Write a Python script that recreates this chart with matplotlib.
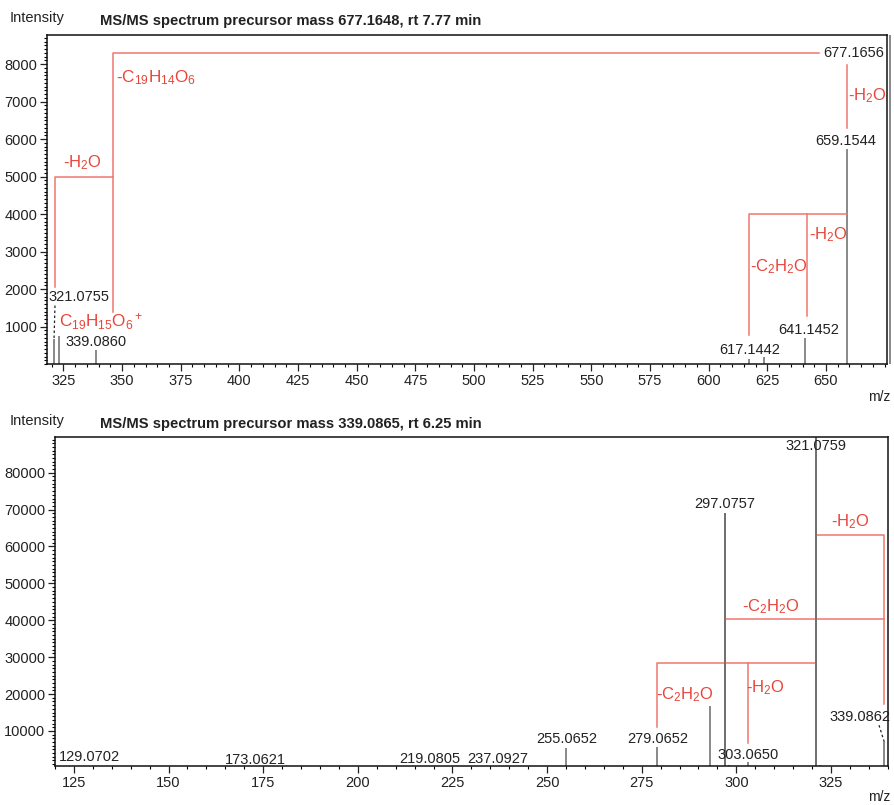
import numpy as np
import matplotlib
matplotlib.use("Agg")
import matplotlib.pyplot as plt
from matplotlib.ticker import MultipleLocator

plt.rcParams['font.family'] = ['Liberation Sans', 'DejaVu Sans']
plt.rcParams['mathtext.fontset'] = 'custom'
plt.rcParams['mathtext.rm'] = 'Liberation Sans'
plt.rcParams['mathtext.it'] = 'Liberation Sans'

PEAK = '#6a6a6a'
TXT = '#222222'
RED_T = '#e8453a'
RED_L = '#f0766e'

# spectrum 1 : precursor 677.1648
mz1 = [321.0755, 323.0, 339.0860, 617.1442, 623.4, 641.1452, 659.1544, 677.1656]
int1 = [680, 740, 385, 130, 180, 700, 5730, 8780]
lab1 = ['321.0755', '339.0860', '617.1442', '641.1452', '659.1544', '677.1656']
lab1_xy = [(331.6, 1800), (338.9, 590), (617.4, 385), (642.8, 920), (658.3, 5940), (661.7, 8290)]

# spectrum 2 : precursor 339.0865
mz2 = [129.0702, 173.0621, 219.0805, 237.0927, 247.2, 251.2, 255.0652, 279.0652,
       293.0, 297.0757, 298.08, 303.0650, 321.0759, 322.08, 339.0862]
int2 = [300, 250, 350, 400, 450, 500, 5400, 5590,
        16790, 69000, 700, 1500, 89600, 800, 7030]
lab2 = ['129.0702', '173.0621', '219.0805', '237.0927', '255.0652', '279.0652',
        '297.0757', '303.0650', '321.0759', '339.0862']
lab2_xy = [(129.0, 2960), (173.0, 2250), (219.0, 2520), (237.1, 2520), (255.1, 7760),
           (279.3, 7760), (297.0, 71500), (303.0, 3420), (321.1, 87250), (332.7, 13650)]

def sub(s, pre='-'):
    # plain hyphen in front, the formula itself in mathtext for the subscripts
    return pre + r'$\mathregular{' + s + '}$'

fig = plt.figure(figsize=(8.94, 8.05), dpi=100)
ax1 = fig.add_axes([47/894, 1-364/805, 840/894, 329/805])
ax2 = fig.add_axes([55/894, 1-766/805, 832.7/894, 328.7/805])

def style(ax, ymin):
    ax.xaxis.set_minor_locator(MultipleLocator(5))
    ax.yaxis.set_minor_locator(MultipleLocator(ymin))
    ax.tick_params(axis='both', which='major', direction='out', length=5, width=0.9,
                   labelsize=10.5, colors='#222222', pad=2)
    ax.tick_params(axis='both', which='minor', direction='out', length=2.5, width=0.8)
    ax.tick_params(top=False, right=False)
    for s in ax.spines.values():
        s.set_color('#111111')
        s.set_linewidth(1.1)

# --- top spectrum ---
ax1.set_xlim(318, 676.0)
ax1.set_ylim(0, 8780)
style(ax1, 100)
ax1.set_xticks(np.arange(325, 651, 25))
ax1.set_yticks(np.arange(1000, 8001, 1000))
ax1.vlines(mz1, 0, int1, color=PEAK, lw=1.1, clip_on=False)
for t, (x, y) in zip(lab1, lab1_xy):
    ax1.text(x, y, t, ha='center', va='center', fontsize=10.5, color=TXT)
ax1.plot([321.4, 321.0], [1560, 680], color=TXT, lw=0.9, ls=(0, (2, 2)))

ax1.plot([346.0, 346.0, 647.1], [1400, 8300, 8300], color=RED_L, lw=1.1)
ax1.plot([321.5, 321.5, 346.0], [2060, 4990, 4990], color=RED_L, lw=1.1)
ax1.plot([659.15, 659.15], [6310, 7980], color=RED_L, lw=1.1)
ax1.plot([617.2, 617.2, 659.15], [777, 3995, 3995], color=RED_L, lw=1.1)
ax1.plot([642.1, 642.1], [1290, 3995], color=RED_L, lw=1.1)

ax1.text(347.4, 7640, sub('C_{19}H_{14}O_6'), color=RED_T, fontsize=12.3, va='center')
ax1.text(325.0, 5370, sub('H_2O'), color=RED_T, fontsize=12, va='center')
ax1.text(323.1, 1140, sub('C_{19}H_{15}O_6{}^+', pre=''), color=RED_T, fontsize=12.3, va='center')
ax1.text(659.4, 7150, sub('H_2O'), color=RED_T, fontsize=12, va='center')
ax1.text(642.6, 3450, sub('H_2O'), color=RED_T, fontsize=12, va='center')
ax1.text(617.4, 2590, sub('C_2H_2O'), color=RED_T, fontsize=12, va='center')

fig.text(10/894, 1-18/805, 'Intensity', fontsize=10.5, color=TXT, va='center')
fig.text(100/894, 1-21/805, 'MS/MS spectrum precursor mass 677.1648, rt 7.77 min',
         fontsize=10.6, fontweight='bold', color=TXT, va='center')
fig.text(868/894, 1-397/805, 'm/z', fontsize=10, color=TXT, va='center')

# --- bottom spectrum ---
ax2.set_xlim(120, 340)
ax2.set_ylim(500, 89600)
style(ax2, 1000)
ax2.set_xticks(np.arange(125, 326, 25))
ax2.set_yticks(np.arange(10000, 80001, 10000))
ax2.vlines(mz2, 0, int2, color=PEAK, lw=1.1)
for t, (x, y) in zip(lab2, lab2_xy):
    ax2.text(x, y, t, ha='center', va='center', fontsize=10.5, color=TXT)
ax2.plot([337.7, 339.09], [11560, 7030], color=TXT, lw=0.9, ls=(0, (2, 2)))

ax2.plot([321.08, 339.09, 339.09], [63000, 63000, 17250], color=RED_L, lw=1.1)
ax2.plot([297.08, 339.09], [40230, 40230], color=RED_L, lw=1.1)
ax2.plot([279.07, 279.07, 321.08], [11100, 28300, 28300], color=RED_L, lw=1.1)
ax2.plot([303.07, 303.07], [6760, 28300], color=RED_L, lw=1.1)
ax2.vlines([297.0757, 321.0759], 500, [69000, 89600], color=PEAK, lw=1.1)

ax2.text(330.1, 66700, sub('H_2O'), color=RED_T, fontsize=12, ha='center', va='center')
ax2.text(309.2, 43650, sub('C_2H_2O'), color=RED_T, fontsize=12, ha='center', va='center')
ax2.text(286.5, 19970, sub('C_2H_2O'), color=RED_T, fontsize=12, ha='center', va='center')
ax2.text(307.7, 21790, sub('H_2O'), color=RED_T, fontsize=12, ha='center', va='center')

fig.text(10/894, 1-421/805, 'Intensity', fontsize=10.5, color=TXT, va='center')
fig.text(100/894, 1-424/805, 'MS/MS spectrum precursor mass 339.0865, rt 6.25 min',
         fontsize=10.6, fontweight='bold', color=TXT, va='center')
fig.text(868/894, 1-797/805, 'm/z', fontsize=10, color=TXT, va='center')

fig.savefig('out.png', dpi=100)
